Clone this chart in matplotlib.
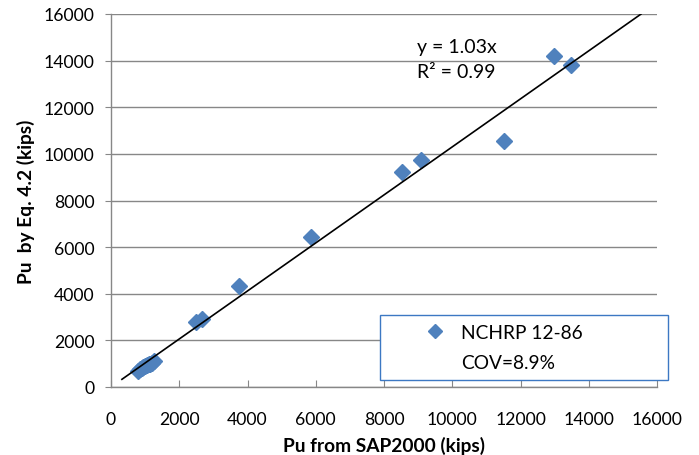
import matplotlib
matplotlib.use("Agg")
import matplotlib.pyplot as plt
from matplotlib.lines import Line2D
import numpy as np

plt.rcParams['font.family'] = ['Lato', 'DejaVu Sans']

# Data
sap_x = [800, 850, 900, 950, 1000, 1050, 1100, 1150, 1200, 1250,
         2490, 2670, 3750, 5860, 8530, 9080, 11520, 12980, 13480]
eq_y = [700, 760, 800, 850, 900, 950, 980, 1000, 1050, 1100,
        2790, 2920, 4330, 6430, 9220, 9740, 10550, 14200, 13810]
trend_slope = 1.03
trend_x = [320, 15530]
ticks = [0, 2000, 4000, 6000, 8000, 10000, 12000, 14000, 16000]

blue = '#4f81bd'
grid_gray = '#878787'

fig = plt.figure(figsize=(6.99, 4.56), dpi=100)
ax = fig.add_axes([111/699, 68/456, 546/699, 373/456])

ax.set_xlim(0, 16000)
ax.set_ylim(0, 16000)
ax.set_xticks(ticks)
ax.set_yticks(ticks)
ax.yaxis.grid(True, color=grid_gray, linewidth=1.0)
ax.set_axisbelow(True)
for s in ['top', 'right']:
    ax.spines[s].set_visible(False)
for s in ['left', 'bottom']:
    ax.spines[s].set_color(grid_gray)
    ax.spines[s].set_linewidth(1.0)
ax.tick_params(axis='x', direction='in', length=5, color=grid_gray, labelsize=12.7, pad=17)
ax.tick_params(axis='y', direction='out', length=4, color=grid_gray, labelsize=12.7, pad=8)

ax.plot(sap_x, eq_y, linestyle='none', marker='D', markersize=8.3,
        color=blue, markeredgecolor=blue, zorder=3)
tx = np.array(trend_x)
ax.plot(tx, trend_slope * tx, color='black', linewidth=1.2, zorder=4)

fig.text(417/699, 1 - 47/456, 'y = 1.03x', fontsize=14, va='center', ha='left')
fig.text(417/699, 1 - 73/456, 'R² = 0.99', fontsize=14, va='center', ha='left')

ax.set_xlabel('Pu from SAP2000 (kips)', fontsize=13.8, fontweight='bold', labelpad=7)
ax.set_ylabel('Pu  by Eq. 4.2 (kips)', fontsize=13.8, fontweight='bold', labelpad=6)

h1 = Line2D([], [], linestyle='none', marker='D', markersize=7.5, color=blue)
h2 = Line2D([], [], linestyle='none', marker='None')
leg = ax.legend([h1, h2], ['NCHRP 12-86', 'COV=8.9%'],
                loc='upper left',
                bbox_to_anchor=(380/699, 1 - 316/456, 288/699, 0.0),
                bbox_transform=fig.transFigure, mode='expand',
                borderaxespad=0, fancybox=False, framealpha=1,
                edgecolor='#3c78c3', fontsize=13.8, labelspacing=0.72,
                handletextpad=-1.0, borderpad=0.45, handlelength=4.8)
leg.get_frame().set_linewidth(1.0)

fig.savefig('out.png', dpi=100)
